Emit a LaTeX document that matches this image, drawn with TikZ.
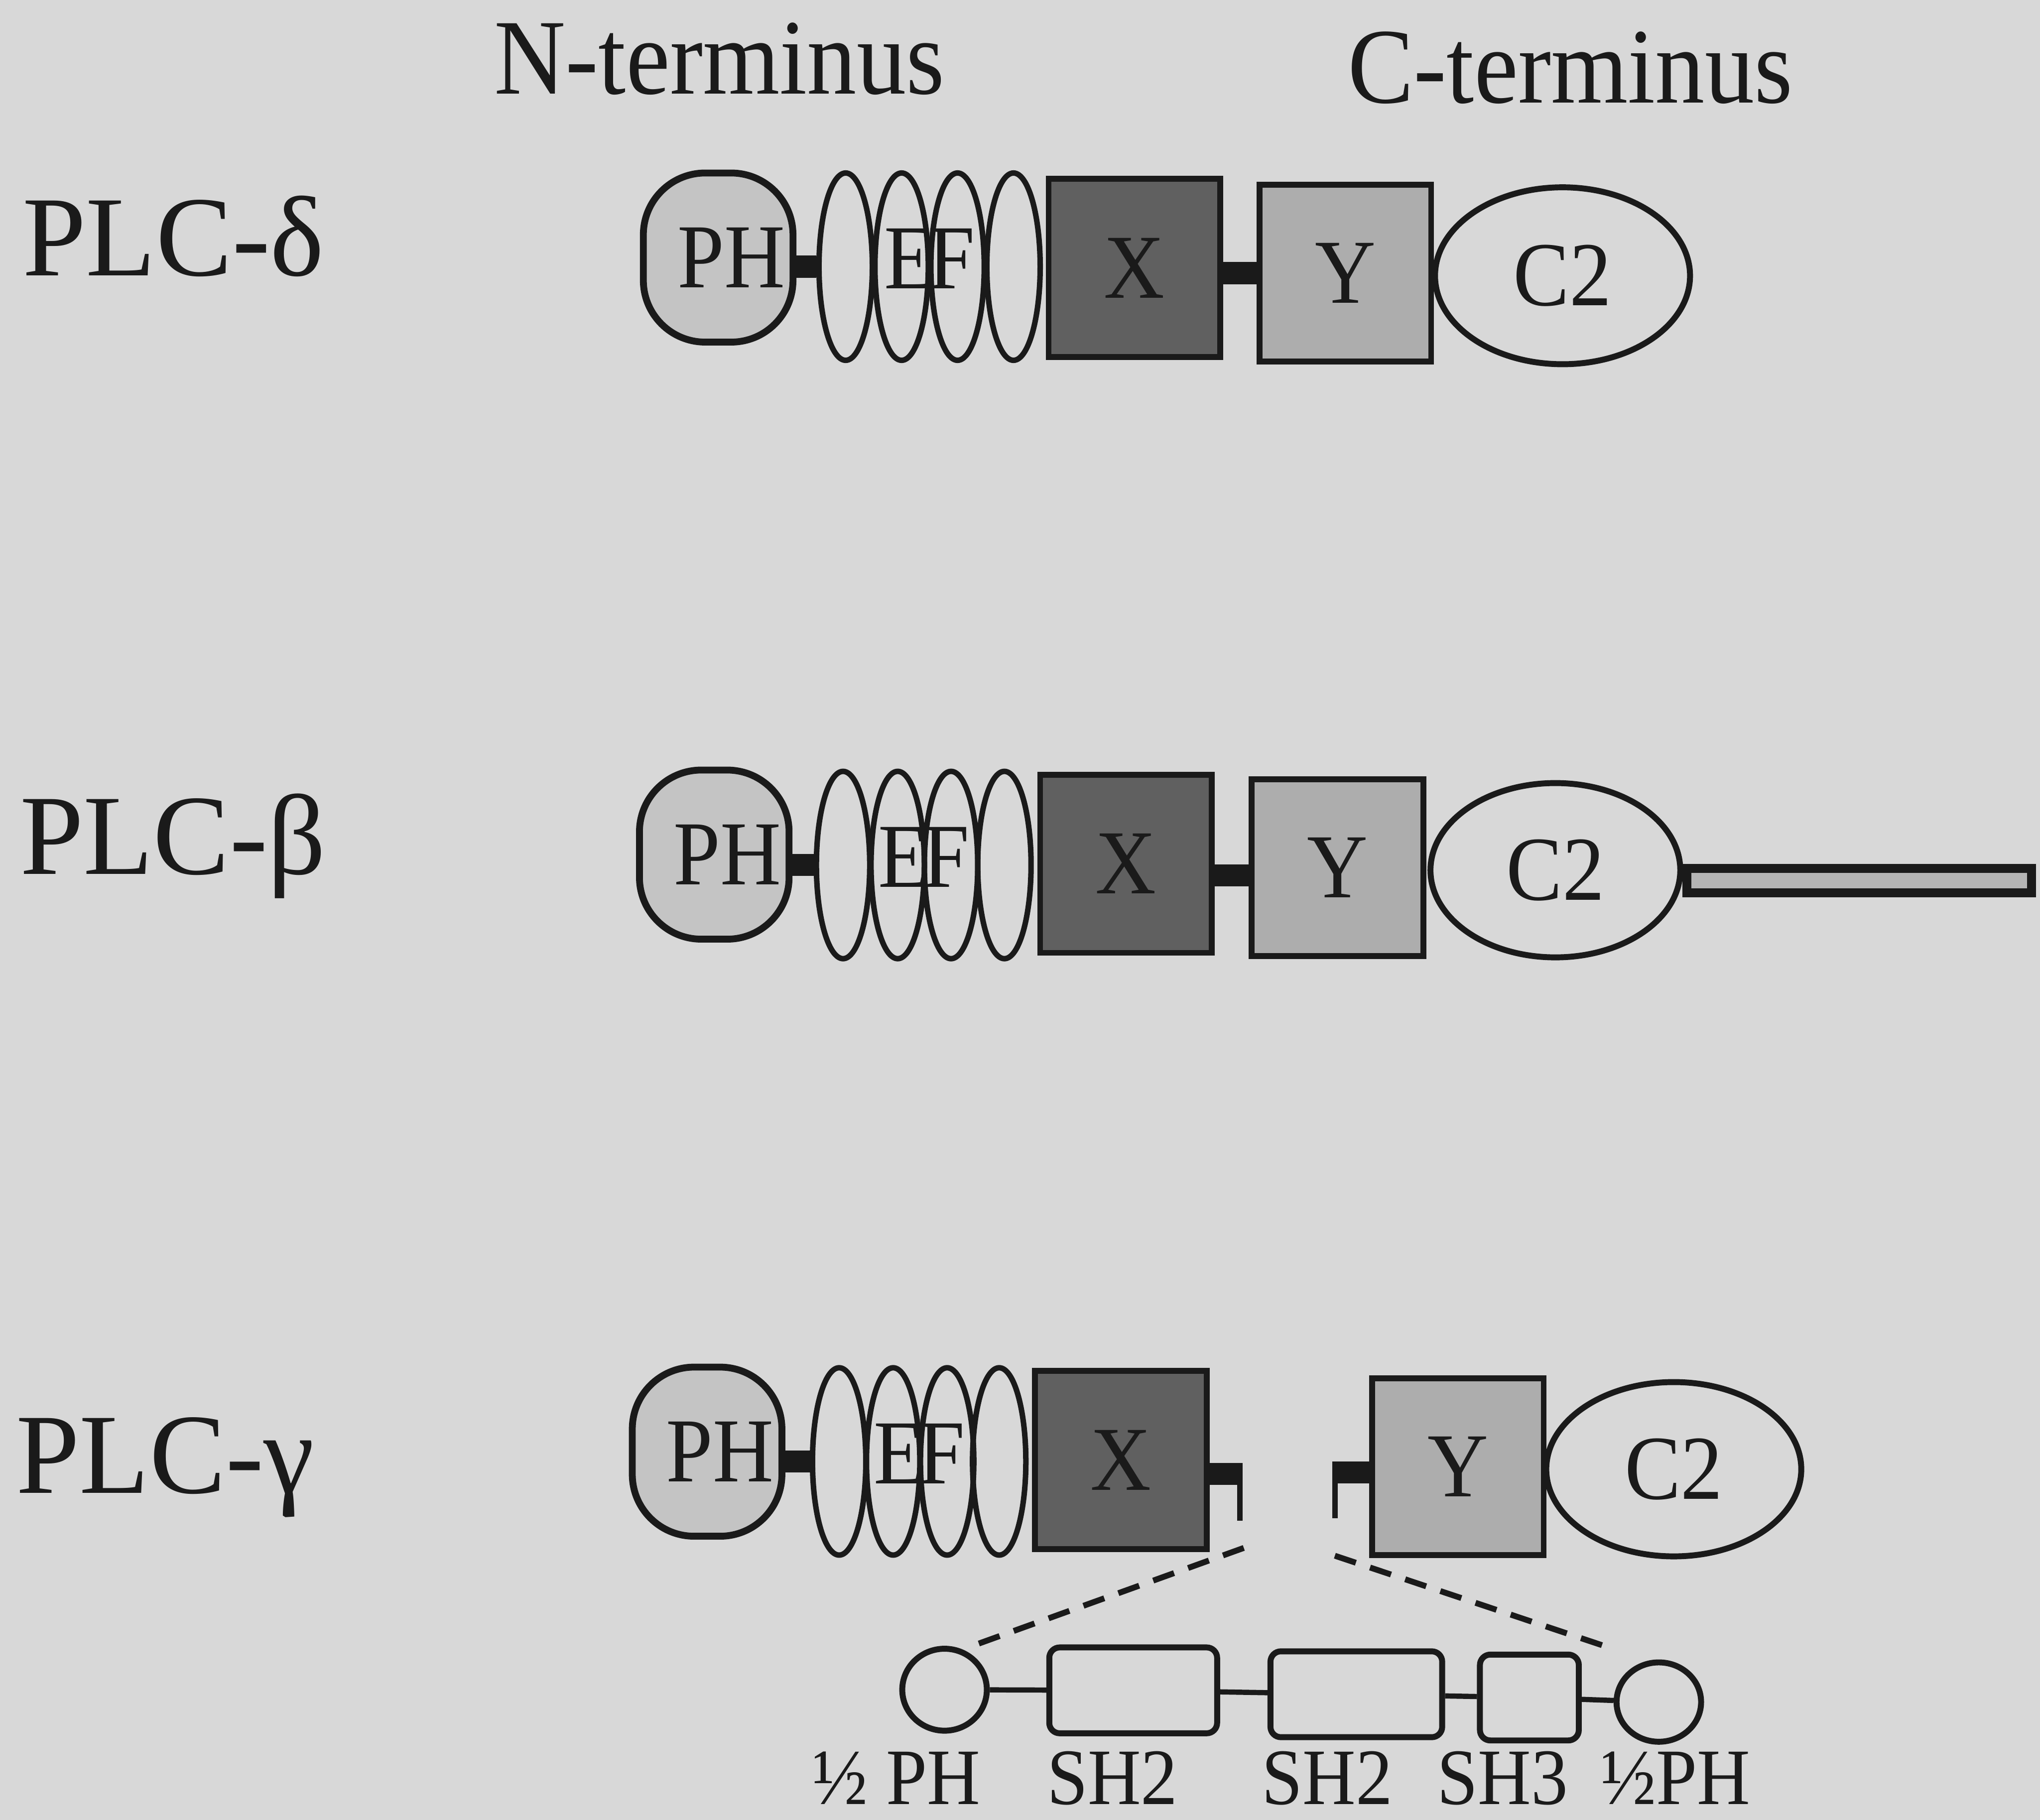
\documentclass[tikz,border=0pt]{standalone}
\usepackage{fontspec}
\setmainfont{Liberation Serif}[FakeStretch=0.92]
\newfontfamily\plcfont{Liberation Serif}
\usetikzlibrary{shapes.geometric,calc}
\definecolor{paper}{HTML}{D8D8D8}
\definecolor{ink}{HTML}{1A1A1A}
\definecolor{phgray}{HTML}{C4C4C4}
\definecolor{xgray}{HTML}{606060}
\definecolor{ygray}{HTML}{ADADAD}
\definecolor{tailgray}{HTML}{B4B4B4}
\newcommand{\plcname}[1]{{\plcfont\fontsize{50}{60}\selectfont #1}}
\tikzset{
  dombox/.style={
    draw=ink,
    line width=2.6pt,
    inner sep=0pt,
    text=ink,
    font=\fontsize{40}{48}\selectfont
  },
  phdom/.style={
    dombox,
    rectangle,
    rounded corners=9.5mm,
    fill=phgray,
    line width=3pt,
    minimum width=23mm,
    minimum height=26mm,
    execute at begin node=\kern4mm
  },
  efdom/.style={
    dombox,
    ellipse,
    line width=2.4pt,
    minimum width=8.2mm,
    minimum height=28.8mm
  },
  eftext/.style={
    inner sep=0pt,
    text=ink,
    font=\fontsize{40}{48}\selectfont
  },
  xdom/.style={
    dombox,
    rectangle,
    fill=xgray,
    minimum width=26.4mm,
    minimum height=27.4mm
  },
  ydom/.style={
    dombox,
    rectangle,
    fill=ygray,
    minimum width=26.4mm,
    minimum height=27.2mm
  },
  ctwodom/.style={
    dombox,
    ellipse,
    minimum width=39.2mm,
    minimum height=27.2mm
  },
  linker/.style={
    draw=ink,
    line width=3.4mm
  },
  stub/.style={
    draw=ink,
    line width=0.85mm
  },
  tailbar/.style={
    draw=ink,
    fill=tailgray,
    line width=1.4mm,
    inner sep=0pt,
    anchor=west,
    minimum width=53mm,
    minimum height=3.8mm
  },
  zoomline/.style={
    draw=ink,
    line width=0.9mm,
    dash pattern=on 3.4mm off 2.3mm
  },
  halfph/.style={
    draw=ink,
    ellipse,
    line width=2.6pt,
    inner sep=0pt,
    minimum width=13mm,
    minimum height=12.6mm
  },
  shbox/.style={
    draw=ink,
    rectangle,
    rounded corners=1.6mm,
    line width=2.6pt,
    inner sep=0pt,
    minimum height=13.2mm
  },
  joint/.style={
    draw=ink,
    line width=0.8mm
  },
  isoname/.style={
    inner sep=0pt,
    anchor=base west,
    text=ink
  },
  termname/.style={
    inner sep=0pt,
    anchor=base,
    text=ink,
    font=\fontsize{47}{56}\selectfont
  },
  shname/.style={
    inner sep=0pt,
    anchor=base,
    text=ink,
    font=\fontsize{35}{42}\selectfont
  }
}
\begin{document}
\begin{tikzpicture}[x=0.2mm, y=-0.2mm]
\useasboundingbox (0,0) rectangle (1568,1399);
\fill[paper] (0,0) rectangle (1568,1399);

% Column heads.
\node[termname] (nTerm) at (553,72) {N-terminus};
\node[termname] (cTerm) at (1207,79) {C-terminus};

% PLC-delta: the basic layout.
\node[isoname] (nameD) at (17,212) {\plcname{PLC-δ}};
\node[phdom] (phD) at (552,198) {PH};
\node[efdom] (efD1) at (650,205) {};
\node[efdom] (efD2) at (693,205) {};
\node[efdom] (efD3) at (736,205) {};
\node[efdom] (efD4) at (779,205) {};
\node[eftext] (efD) at ($(efD1)!0.5!(efD4)+(0,-6)$) {E\kern-0.08em F};
\node[xdom] (xD) at (872,206) {X};
\node[ydom] (yD) at (1034,210) {Y};
\node[ctwodom] (c2D) at (1201,212) {C2};

\draw[linker] (efD1.west -| phD.east) -- (efD1.west);
\draw[linker] (yD.west -| xD.east) -- (yD.west);

% PLC-beta: same core plus the long C-terminal tail.
\node[isoname] (nameB) at (15,672) {\plcname{PLC-β}};
\node[phdom] (phB) at (549,657) {PH};
\node[efdom] (efB1) at (648,665) {};
\node[efdom] (efB2) at (690,665) {};
\node[efdom] (efB3) at (731,665) {};
\node[efdom] (efB4) at (772,665) {};
\node[eftext] (efB) at ($(efB1)!0.5!(efB4)+(0,-6)$) {E\kern-0.08em F};
\node[xdom] (xB) at (865.5,664) {X};
\node[ydom] (yB) at (1028,667) {Y};
\node[ctwodom, minimum width=38.4mm, minimum height=26.8mm] (c2B) at (1195.5,669) {C2};
\node[tailbar] (tailB) at (1293,677) {};

\draw[linker] (efB1.west -| phB.east) -- (efB1.west);
\draw[linker] ([yshift=-1.2mm]yB.west -| xB.east) -- ([yshift=-1.2mm]yB.west);

% PLC-gamma: X and Y split, the insert is blown up below.
\node[isoname] (nameG) at (12,1148) {\plcname{PLC-γ}};
\node[phdom] (phG) at (543.5,1116) {PH};
\node[efdom] (efG1) at (645,1123.5) {};
\node[efdom] (efG2) at (686.5,1123.5) {};
\node[efdom] (efG3) at (728,1123.5) {};
\node[efdom] (efG4) at (768,1123.5) {};
\node[eftext] (efG) at ($(efG1)!0.5!(efG4)+(0,-6)$) {E\kern-0.08em F};
\node[xdom] (xG) at (861.5,1122.5) {X};
\node[ydom] (yG) at (1120.5,1127.5) {Y};
\node[ctwodom, minimum height=26.8mm] (c2G) at (1286.5,1129.5) {C2};

\draw[linker] (efG1.west -| phG.east) -- (efG1.west);

\coordinate (cutL) at (955,1133);
\coordinate (cutLtop) at (953,1133);
\coordinate (cutLbot) at (953,1169);
\coordinate (cutR) at (1024,1132);
\coordinate (cutRtop) at (1026,1132);
\coordinate (cutRbot) at (1026,1167);
\draw[linker] (xG.east |- cutL) -- (cutL);
\draw[stub] (cutLtop) -- (cutLbot);
\draw[linker] (cutR) -- (yG.west |- cutR);
\draw[stub] (cutRtop) -- (cutRbot);

% Insert between X and Y.
\node[halfph] (halfL) at (726,1299) {};
\node[shbox, minimum width=25.8mm] (shA) at (871,1299.5) {};
\node[shbox, minimum width=26.4mm] (shB) at (1042.5,1302.5) {};
\node[shbox, minimum width=15.2mm] (shC) at (1175.5,1305) {};
\node[halfph, minimum height=12.2mm] (halfR) at (1275,1308.5) {};

\draw[joint] (halfL) -- (shA);
\draw[joint] (shA) -- (shB);
\draw[joint] (shB) -- (shC);
\draw[joint] (shC) -- (halfR);

\coordinate (zoomLa) at (956,1190);
\coordinate (zoomLb) at (751,1264);
\coordinate (zoomRa) at (1026,1196);
\coordinate (zoomRb) at (1241,1268);
\draw[zoomline] (zoomLa) -- (zoomLb);
\draw[zoomline] (zoomRa) -- (zoomRb);

\node[shname] (lblHalfL) at (689,1387) {½ PH};
\node[shname] (lblShA) at (855,1387) {SH2};
\node[shname] (lblShB) at (1020,1387) {SH2};
\node[shname] (lblShC) at (1155,1387) {SH3};
\node[shname] (lblHalfR) at (1288,1387) {½PH};

\end{tikzpicture}
\end{document}
